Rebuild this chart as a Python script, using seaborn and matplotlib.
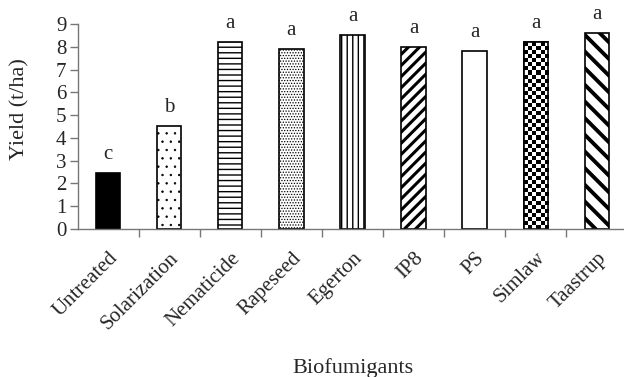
import numpy as np
import matplotlib
matplotlib.use("Agg")
import matplotlib.pyplot as plt
import seaborn as sns
import pandas as pd

# data
treatments = ['Untreated', 'Solarization', 'Nematicide', 'Rapeseed', 'Egerton',
              'IP8', 'PS', 'Simlaw', 'Taastrup']
yields = [2.45, 4.5, 8.2, 7.9, 8.5, 8.0, 7.8, 8.2, 8.6]
groups = ['c', 'b', 'a', 'a', 'a', 'a', 'a', 'a', 'a']

# bar styling
face_colors = ['black'] + ['white'] * 8
hatches = ['', '..', '---', '......', '|||', '///', '', '', '\\\\']
hatch_widths = [1, 0.5, 1, 0.6, 1, 2.2, 1, 1, 2.8]

sns.set_style("ticks")
plt.rcParams['font.family'] = ['Liberation Serif', 'DejaVu Serif']

df = pd.DataFrame({'treatment': treatments, 'yield': yields})

fig = plt.figure(figsize=(6.24, 3.77), dpi=100)
ax = fig.add_axes([0.1242, 0.3926, 0.8814, 0.5438])

sns.barplot(data=df, x='treatment', y='yield', hue='treatment', palette=face_colors,
            legend=False, width=0.4, edgecolor='black', linewidth=1.2, ax=ax)

for i, bar in enumerate(ax.patches):
    bar.set_hatch(hatches[i])
    try:
        bar.set_hatch_linewidth(hatch_widths[i])
    except AttributeError:
        pass

# checkerboard fill for Simlaw (no such hatch in matplotlib)
sim = ax.patches[treatments.index('Simlaw')]
x0, w, h = sim.get_x(), sim.get_width(), sim.get_height()
ncol = 6
bw_px = ax.transData.transform((x0 + w, 0))[0] - ax.transData.transform((x0, 0))[0]
bh_px = ax.transData.transform((0, h))[1] - ax.transData.transform((0, 0))[1]
nrow = int(round(bh_px / (bw_px / ncol)))
checker = np.indices((nrow, ncol)).sum(axis=0) % 2
im = ax.imshow(checker, extent=(x0, x0 + w, 0, h), cmap='gray', aspect='auto',
               interpolation='nearest', zorder=sim.get_zorder() + 0.1)
im.set_clip_path(sim)
ax.add_patch(plt.Rectangle((x0, 0), w, h, fill=False, edgecolor='black',
                           linewidth=1.2, zorder=sim.get_zorder() + 0.2))

# significance letters
for i, (v, g) in enumerate(zip(yields, groups)):
    ax.text(i, v + 0.62, g, ha='center', va='baseline', fontsize=15)

ax.set_xlim(-0.5, len(treatments) - 0.5)
ax.set_ylim(0, 9)
ax.set_yticks(range(0, 10))

# x ticks sit between the categories
ax.set_xticks(np.arange(0.5, len(treatments) - 0.5), minor=True)
ax.tick_params(axis='x', which='major', length=0, pad=14)
ax.tick_params(axis='x', which='minor', length=6, width=1, color='#777777', direction='out')
ax.tick_params(axis='y', length=6, width=1, color='#777777', direction='out', pad=2, labelsize=15)
ax.set_xticks(range(len(treatments)))
ax.set_xticklabels(treatments, rotation=45, ha='right', rotation_mode='anchor', fontsize=15)

for s in ['top', 'right']:
    ax.spines[s].set_visible(False)
for s in ['left', 'bottom']:
    ax.spines[s].set_color('#777777')
    ax.spines[s].set_linewidth(1)

ax.set_xlabel('Biofumigants', fontsize=16)
ax.xaxis.set_label_coords(0.5, -0.63)
ax.set_ylabel('Yield (t/ha)', fontsize=16)
ax.yaxis.set_label_coords(-0.088, 0.585)

fig.savefig('out.png', dpi=100)
